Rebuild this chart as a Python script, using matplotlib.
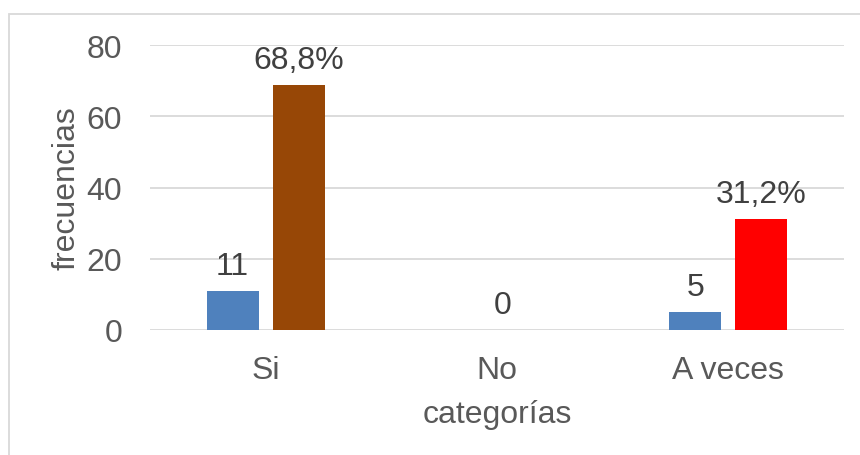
import matplotlib
matplotlib.use('Agg')
from matplotlib import pyplot as plt
from matplotlib.patches import Rectangle
import numpy as np

plt.rcParams['font.family'] = ['Liberation Sans', 'DejaVu Sans']

categorias = ['Si', 'No', 'A veces']
frecuencias = [11, 0, 5]
porcentajes = [68.8, 0, 31.2]
etiquetas_frec = ['11', '', '5']
etiquetas_pct = ['68,8%', '', '31,2%']
etiqueta_cero = '0'
colores_pct = ['#974706', '#974706', '#FF0000']

fig = plt.figure(figsize=(8.6, 4.56), dpi=100)
ax = fig.add_axes([150/860, 1-331/456, 694/860, 285/456])

# outer chart frame (runs off the right and bottom edges)
fig.patches.append(Rectangle((9/860, -0.1), 1.1, 1-15/456+0.1,
                             transform=fig.transFigure, fill=False,
                             edgecolor='#D9D9D9', linewidth=1.3))

x = np.arange(len(categorias))
w = 0.225
off = 0.143

b1 = ax.bar(x - off, frecuencias, w, color='#4F81BD', zorder=3)
b2 = ax.bar(x + off, porcentajes, w, color=colores_pct, zorder=3)

txt = '#404040'
for i in range(len(categorias)):
    if etiquetas_frec[i]:
        ax.annotate(etiquetas_frec[i], (x[i] - off, frecuencias[i]),
                    xytext=(0, 7), textcoords='offset points',
                    ha='center', va='bottom', fontsize=23, color=txt)
    if etiquetas_pct[i]:
        ax.annotate(etiquetas_pct[i], (x[i] + off, porcentajes[i]),
                    xytext=(0, 7), textcoords='offset points',
                    ha='center', va='bottom', fontsize=23, color=txt)
ax.annotate(etiqueta_cero, (x[1] + 0.026, 0),
            xytext=(0, 7), textcoords='offset points',
            ha='center', va='bottom', fontsize=23, color=txt)

ax.set_xlim(-0.5, 2.5)
ax.set_ylim(0, 80)
ax.set_yticks([0, 20, 40, 60, 80])
ax.set_xticks(x)
ax.set_xticklabels(categorias)
ax.grid(axis='y', color='#D9D9D9', linewidth=1.3, zorder=0)
for s in ax.spines.values():
    s.set_visible(False)
ax.tick_params(axis='both', length=0, labelsize=23, labelcolor='#595959')
ax.tick_params(axis='y', pad=20)
ax.tick_params(axis='x', pad=18)

ax.set_ylabel('frecuencias', fontsize=23, color='#595959', labelpad=4)
ax.set_xlabel('categorías', fontsize=23, color='#595959', labelpad=10)

fig.savefig('out.png', dpi=100)
